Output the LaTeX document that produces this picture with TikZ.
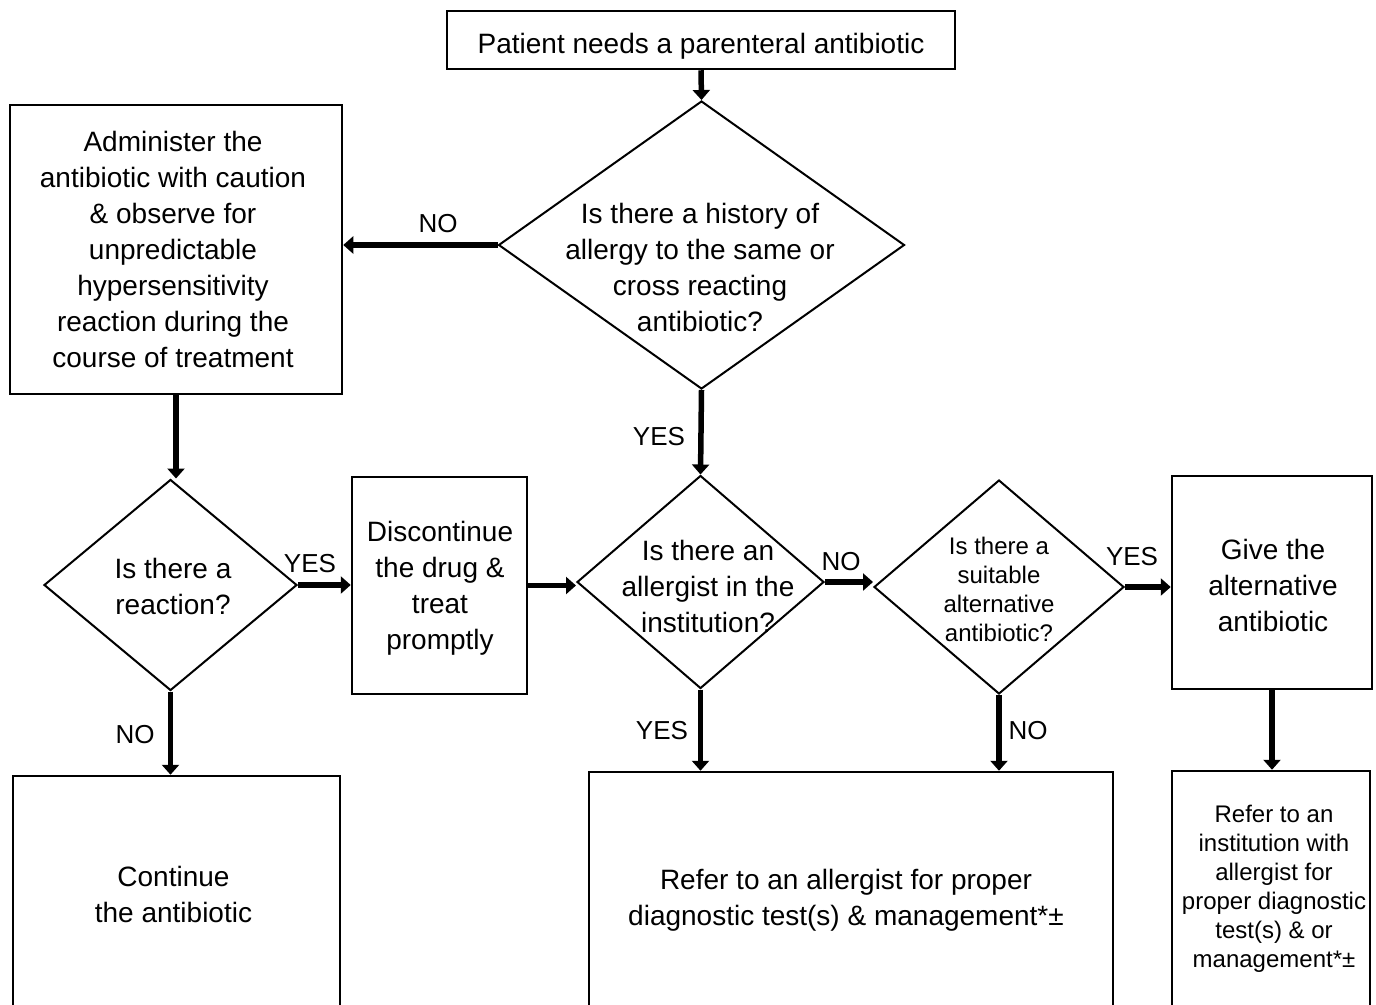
\documentclass[tikz,border=0pt]{standalone}
\usepackage{fontspec}
\setmainfont{Liberation Sans}
\usetikzlibrary{shapes.geometric,arrows.meta}
\begin{document}
\begin{tikzpicture}[x=1pt,y=-1pt,
  box/.style={draw,line width=2.5pt,inner sep=0pt},
  dia/.style={draw,diamond,line width=2pt,inner sep=0pt},
  txt/.style={align=center,font=\fontsize{28}{36}\selectfont,inner sep=0pt},
  stxt/.style={align=center,font=\fontsize{24}{29}\selectfont,inner sep=0pt},
  lbl/.style={font=\fontsize{26}{30}\selectfont,inner sep=0pt},
  arr/.style={line width=5.5pt,-{Triangle[length=10pt,width=17pt]}}]
\useasboundingbox (0,0) rectangle (1376,1004);
\clip (0,0) rectangle (1376,1004);
% boxes
\node[box,minimum width=508pt,minimum height=58pt] (top) at (701,40) {};
\node[txt] (topt) at (701,46) {Patient needs a parenteral antibiotic};
\node[box,minimum width=332pt,minimum height=289pt] (adm) at (176,249.5) {};
\node[txt] (admt) at (173,249) {Administer the\\antibiotic with caution\\\& observe for\\unpredictable\\hypersensitivity\\reaction during the\\course of treatment};
\node[box,minimum width=175pt,minimum height=217pt] (disc) at (439.5,585.5) {};
\node[txt] (disct) at (440,588) {Discontinue\\the drug \&\\treat\\promptly};
\node[box,minimum width=200pt,minimum height=213pt] (give) at (1272,582.5) {};
\node[txt] (givet) at (1273,585) {Give the\\alternative\\antibiotic};
\node[box,minimum width=327pt,minimum height=264pt] (bl) at (176.5,908) {};
\node[txt] (blt) at (173.5,894) {Continue\\the antibiotic};
\node[box,minimum width=524pt,minimum height=268pt] (big) at (851,906) {};
\node[txt] (bigt) at (846,900) {Refer to an allergist for proper\\diagnostic test(s) \& management*±};
\node[box,minimum width=198pt,minimum height=269pt] (br) at (1271,905.5) {};
\node[stxt] (brt) at (1274,889) {Refer to an\\institution with\\allergist for\\proper diagnostic\\test(s) \& or\\management*±};
% diamonds
\node[dia,minimum width=406pt,minimum height=288pt] (d1) at (701.5,245) {};
\node[txt] (d1t) at (700,267) {Is there a history of\\allergy to the same or\\cross reacting\\antibiotic?};
\node[dia,minimum width=253pt,minimum height=211pt] (d2) at (170.5,585) {};
\node[txt] (d2t) at (173,586) {Is there a\\reaction?};
\node[dia,minimum width=247pt,minimum height=213pt] (d3) at (700.5,582) {};
\node[txt] (d3t) at (708,586) {Is there an\\allergist in the\\institution?};
\node[dia,minimum width=250pt,minimum height=214pt] (d4) at (999,587) {};
\node[stxt] (d4t) at (999,589) {Is there a\\suitable\\alternative\\antibiotic?};
% connectors
\draw[arr] (top.south) -- (d1.north);
\draw[arr] (d1.west) -- (d1.west -| adm.east);
\draw[arr] (adm.south) -- (adm.south |- d2.north);
\draw[arr] (d2.east) -- (d2.east -| disc.west);
\draw[arr] (disc.east) -- (disc.east -| d3.west);
\draw[arr] (d1.south) -- (d3.north);
\draw[arr] (d3.east) -- (d3.east -| d4.west);
\draw[arr] (d4.east) -- (d4.east -| give.west);
\draw[arr] (d2.south) -- (d2.south |- bl.north);
\draw[arr] (d3.south) -- (d3.south |- big.north);
\draw[arr] (d4.south) -- (d4.south |- big.north);
\draw[arr] (give.south) -- (give.south |- br.north);
% labels
\node[lbl] (l1) at (438,224) {NO};
\node[lbl] (l2) at (310,564) {YES};
\node[lbl] (l3) at (659,437) {YES};
\node[lbl] (l4) at (841,562) {NO};
\node[lbl] (l5) at (1132,557) {YES};
\node[lbl] (l6) at (662,731) {YES};
\node[lbl] (l7) at (1028,731) {NO};
\node[lbl] (l8) at (135,735) {NO};
\end{tikzpicture}
\end{document}
